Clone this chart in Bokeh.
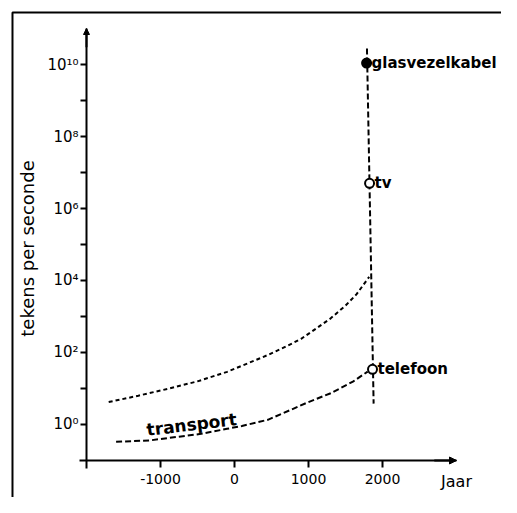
from bokeh.plotting import figure
from bokeh.models import (FixedTicker, Label, Arrow, NormalHead,
                          ColumnDataSource, Range1d)
from bokeh.embed import file_html
from bokeh.resources import INLINE

# ---- data ----
upper_years = [-1700, -1300, -900, -500, -100, 200, 450, 700, 900, 1100, 1300, 1500, 1650, 1820]
upper_vals = [4.2, 6.3, 9.8, 15.8, 29, 52, 85, 148, 240, 457, 890, 2000, 4170, 12600]

transport_years = [-1600, -1150, -750, -450, -100, 100, 450, 750, 1000, 1300, 1600, 1800]
transport_vals = [0.33, 0.36, 0.46, 0.55, 0.76, 0.91, 1.35, 2.5, 4.2, 7.4, 15.5, 29.5]

vline_years = [1790, 1880]
vline_vals = [2.8e10, 3.8]

point_names = ["glasvezelkabel", "tv", "telefoon"]
point_years = [1785, 1825, 1865]
point_vals = [1.1e10, 5e6, 34]
point_filled = [True, False, False]

x_ticks = [-1000, 0, 1000, 2000]
x_tick_labels = ["-1000", "0", "1000", "2000"]
y_ticks = [10 ** k for k in range(0, 11)]
y_tick_labels = ["10⁰", "", "10²", "", "10⁴", "", "10⁶", "", "10⁸", "", "10¹⁰"]

x_axis_label = "Jaar"
y_axis_label = "tekens per seconde"
curve_label = "transport"

FONT = "DejaVu Sans"

# the frame fills the whole canvas; axes sit at fixed data locations
p = figure(width=501, height=497, y_axis_type="log",
           x_range=Range1d(-3162, 3608), y_range=Range1d(10 ** -2.028, 10 ** 11.778),
           output_backend="svg", toolbar_location=None, min_border=0)
p.grid.visible = False
p.outline_line_color = None

# page frame (top and left rules of the scanned page)
p.line([-3000, -3000, 5000], [10 ** -4, 10 ** 11.444, 10 ** 11.444],
       line_color="black", line_width=2)

xa = p.xaxis[0]
xa.fixed_location = 0.1
xa.bounds = (-2100, 3000)
xa.ticker = FixedTicker(ticks=x_ticks)
xa.major_label_overrides = {t: l for t, l in zip(x_ticks, x_tick_labels)}
xa.major_tick_in = 0
xa.major_tick_out = 7
xa.major_label_standoff = 7
xa.major_label_text_font_size = "14px"

ya = p.yaxis[0]
ya.fixed_location = -2000
ya.bounds = (10 ** -1.22, 1e11)
ya.ticker = FixedTicker(ticks=y_ticks)
ya.major_label_overrides = {t: l for t, l in zip(y_ticks, y_tick_labels)}
ya.major_tick_in = 0
ya.major_tick_out = 6
ya.major_label_standoff = 2
ya.major_label_text_font_size = "15px"
ya.axis_label = y_axis_label
ya.axis_label_text_font = FONT
ya.axis_label_text_font_style = "normal"
ya.axis_label_text_font_size = "18px"
ya.axis_label_text_color = "black"
ya.axis_label_standoff = 6

for ax in (xa, ya):
    ax.axis_line_width = 2
    ax.axis_line_color = "black"
    ax.major_tick_line_width = 2
    ax.major_tick_line_color = "black"
    ax.minor_tick_line_color = None
    ax.major_label_text_font = FONT
    ax.major_label_text_color = "black"

# axis arrows
p.add_layout(Arrow(end=NormalHead(size=7, fill_color="black", line_color="black"),
                   x_start=2700, y_start=0.1, x_end=3000, y_end=0.1,
                   line_width=2, line_color="black"))
p.add_layout(Arrow(end=NormalHead(size=6, fill_color="black", line_color="black"),
                   x_start=-2000, y_start=3e10, x_end=-2000, y_end=1e11,
                   line_width=2, line_color="black"))

# curves
p.line(upper_years, upper_vals, line_color="black", line_width=2, line_dash="4 3")
p.line(transport_years, transport_vals, line_color="black", line_width=2, line_dash="6 3")
p.line(vline_years, vline_vals, line_color="black", line_width=2, line_dash="6 3")

# points
src = ColumnDataSource(dict(x=point_years, y=point_vals,
                            fill=["black" if f else "white" for f in point_filled]))
p.scatter("x", "y", source=src, size=9, marker="circle", fill_color="fill",
          line_color="black", line_width=2)

for name, xv, yv in zip(point_names, point_years, point_vals):
    p.add_layout(Label(x=xv, y=yv, text=name, x_offset=5, text_font=FONT,
                       text_font_size="15px", text_font_style="bold",
                       text_baseline="middle", text_align="left", text_color="black"))

p.add_layout(Label(x=-580, y=1.0, text=curve_label, angle=0.12, text_font=FONT,
                   text_font_size="17px", text_font_style="bold",
                   text_baseline="middle", text_align="center", text_color="black"))
p.add_layout(Label(x=3000, y=10 ** -1.58, text=x_axis_label, text_font=FONT,
                   text_font_size="16px", text_baseline="middle",
                   text_align="center", text_color="black"))

open("out.html", "w").write(file_html(p, INLINE))
